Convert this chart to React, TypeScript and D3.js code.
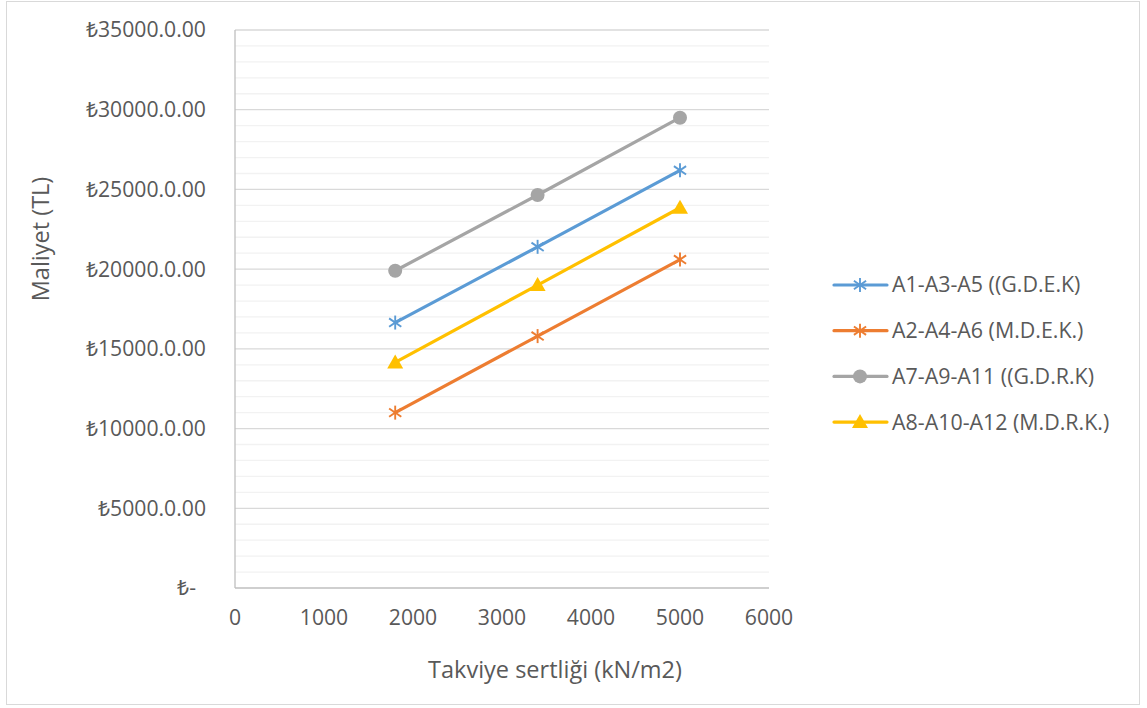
import React from "react";
import * as d3 from "d3";

const xValues = [1800, 3400, 5000];
const seriesNames = [
  "A1-A3-A5 ((G.D.E.K)",
  "A2-A4-A6 (M.D.E.K.)",
  "A7-A9-A11 ((G.D.R.K)",
  "A8-A10-A12 (M.D.R.K.)",
];
const seriesA1 = [16650, 21400, 26200];
const seriesA2 = [11000, 15800, 20600];
const seriesA7 = [19900, 24650, 29500];
const seriesA8 = [14150, 19000, 23850];
const xTicks = [0, 1000, 2000, 3000, 4000, 5000, 6000];
const yTicks = [0, 5000, 10000, 15000, 20000, 25000, 30000, 35000];
const yTickLabels = ["₺-", "₺5000.0.00", "₺10000.0.00", "₺15000.0.00", "₺20000.0.00", "₺25000.0.00", "₺30000.0.00", "₺35000.0.00"];
const minorTicks = d3.range(1000, 35000, 1000).filter((v) => v % 5000 !== 0);

const colors = ["#5B9BD5", "#ED7D31", "#A5A5A5", "#FFC000"];
const markers = ["star", "star", "circle", "triangle"];
const FONT = "'Open Sans', sans-serif";
const TEXT = "#595959";

function Marker({ type, x, y, color }: { type: string; x: number; y: number; color: string }) {
  if (type === "circle") return <circle cx={x} cy={y} r={7} fill={color} />;
  if (type === "triangle") {
    const s = 8;
    return <path d={`M${x},${y - s} L${x + s},${y + s * 0.75} L${x - s},${y + s * 0.75} Z`} fill={color} />;
  }
  const r = 7;
  const d = r * 0.87;
  return (
    <g stroke={color} strokeWidth={1.9}>
      <line x1={x} y1={y - r} x2={x} y2={y + r} />
      <line x1={x - d} y1={y - r * 0.6} x2={x + d} y2={y + r * 0.6} />
      <line x1={x - d} y1={y + r * 0.6} x2={x + d} y2={y - r * 0.6} />
    </g>
  );
}

export default function App() {
  const W = 1147, H = 708;
  const left = 235, right = 769, top = 30, bottom = 588;
  const x = d3.scaleLinear().domain([0, 6000]).range([left, right]);
  const y = d3.scaleLinear().domain([0, 35000]).range([bottom, top]);
  const allSeries = [seriesA1, seriesA2, seriesA7, seriesA8];
  const line = d3.line<[number, number]>().x((d) => x(d[0])).y((d) => y(d[1]));
  const drawOrder = [2, 0, 3, 1];

  return (
    <svg width={W} height={H} style={{ position: "absolute", left: 0, top: 0 }} fontFamily={FONT}>
      <rect x={0} y={0} width={W} height={H} fill="#fff" />
      <rect x={6.5} y={1.5} width={1133} height={703} fill="none" stroke="#d9d9d9" strokeWidth={1} />
      {minorTicks.map((v) => (
        <line key={"m" + v} x1={left} x2={right} y1={y(v)} y2={y(v)} stroke="#f2f2f2" strokeWidth={1.3} />
      ))}
      {yTicks.filter((v) => v > 0).map((v) => (
        <line key={"g" + v} x1={left} x2={right} y1={y(v)} y2={y(v)} stroke="#d9d9d9" strokeWidth={1.3} />
      ))}
      <line x1={left} x2={left} y1={top} y2={bottom} stroke="#bfbfbf" strokeWidth={1.3} />
      <line x1={left} x2={right} y1={bottom} y2={bottom} stroke="#bfbfbf" strokeWidth={1.3} />
      {yTicks.map((v, i) => (
        <text key={"yl" + v} x={v === 0 ? 196 : 206} y={y(v)} dy="0.35em" textAnchor="end" fontSize={21.2} fill={TEXT}>
          {yTickLabels[i]}
        </text>
      ))}
      {xTicks.map((v) => (
        <text key={"xl" + v} x={x(v)} y={618} dy="0.35em" textAnchor="middle" fontSize={21.2} fill={TEXT}>
          {v}
        </text>
      ))}
      <text x={555} y={678} textAnchor="middle" fontSize={23.5} fill={TEXT}>
        Takviye sertliği (kN/m2)
      </text>
      <text transform="translate(49,239) rotate(-90)" textAnchor="middle" fontSize={23.5} fill={TEXT}>
        Maliyet (TL)
      </text>
      {drawOrder.map((si) => {
        const pts = xValues.map((xv, i) => [xv, allSeries[si][i]] as [number, number]);
        return (
          <g key={"s" + si}>
            <path d={line(pts) || ""} fill="none" stroke={colors[si]} strokeWidth={3.2} strokeLinecap="round" />
            {pts.map((p, i) => (
              <Marker key={i} type={markers[si]} x={x(p[0])} y={y(p[1])} color={colors[si]} />
            ))}
          </g>
        );
      })}
      {seriesNames.map((name, i) => {
        const ly = 285 + i * 45.7;
        return (
          <g key={"lg" + i}>
            <line x1={834} x2={887} y1={ly} y2={ly} stroke={colors[i]} strokeWidth={3.2} strokeLinecap="round" />
            <Marker type={markers[i]} x={860} y={ly} color={colors[i]} />
            <text x={892} y={ly} dy="0.35em" fontSize={21.4} fill={TEXT}>
              {name}
            </text>
          </g>
        );
      })}
    </svg>
  );
}
